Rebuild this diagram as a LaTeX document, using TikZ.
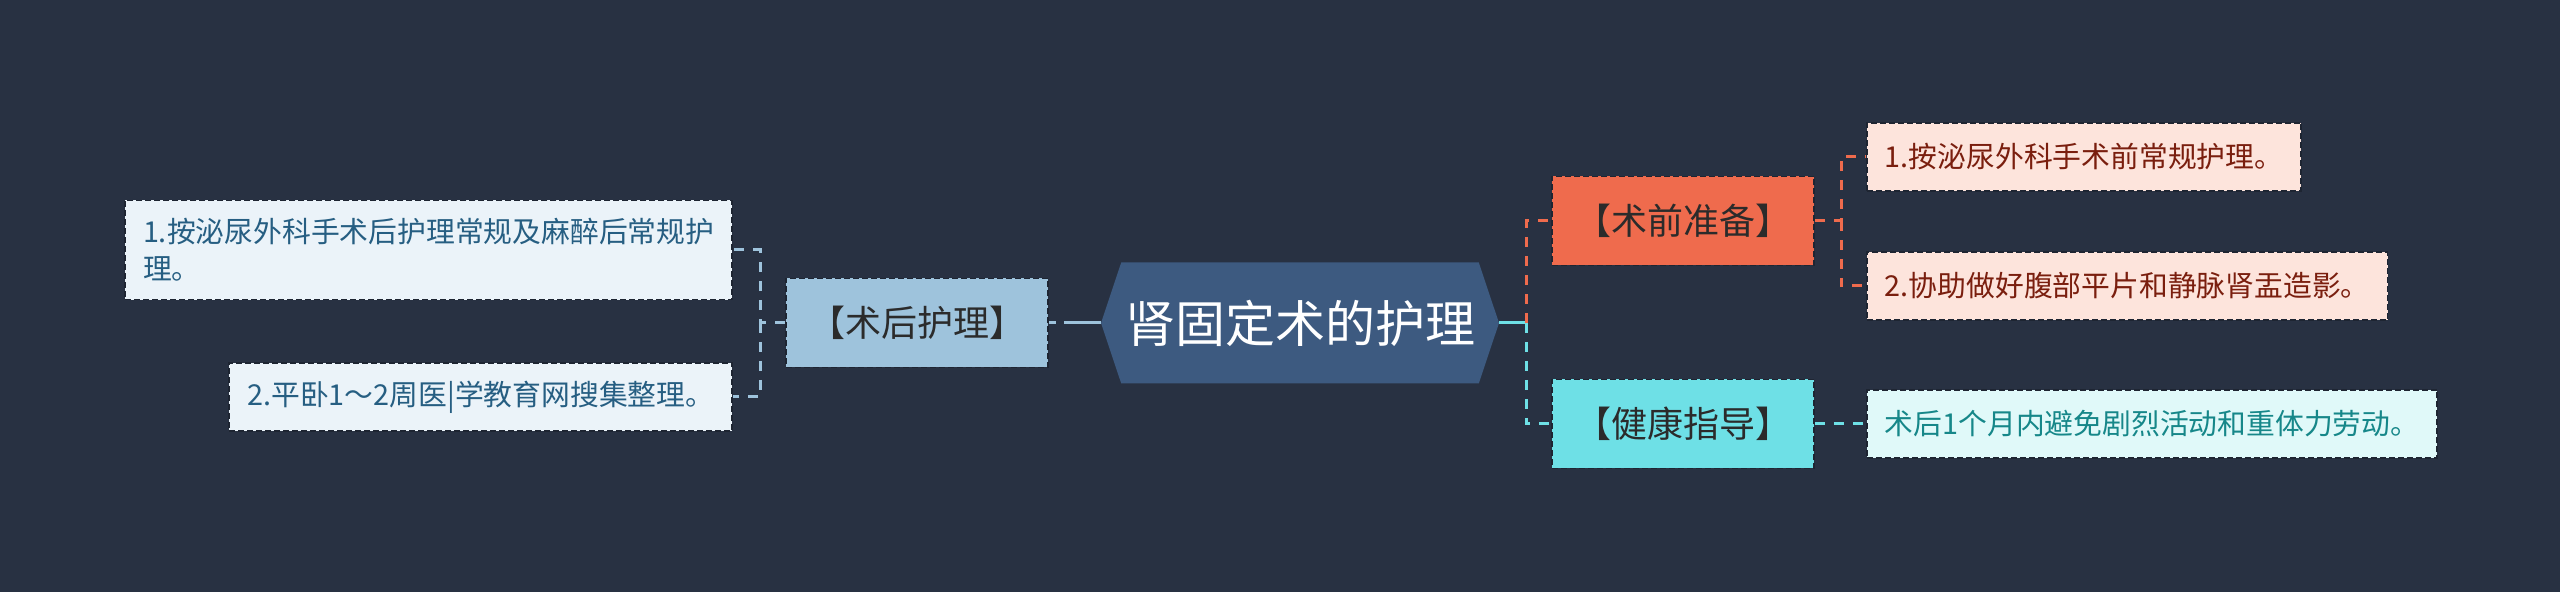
\documentclass[tikz,border=0pt]{standalone}
\usepackage{fontspec}
\setmainfont{Noto Sans CJK SC}
\usetikzlibrary{shapes.symbols}

\definecolor{bgcol}{RGB}{40,49,66}
\definecolor{rimcol}{RGB}{30,37,50}
\definecolor{rootcol}{RGB}{61,90,128}
\definecolor{bluecol}{RGB}{158,195,220}
\definecolor{bluelite}{RGB}{235,243,249}
\definecolor{bluetext}{RGB}{38,94,130}
\definecolor{redcol}{RGB}{239,107,77}
\definecolor{redlite}{RGB}{253,228,220}
\definecolor{redtext}{RGB}{122,30,14}
\definecolor{cyancol}{RGB}{110,224,230}
\definecolor{cyanlite}{RGB}{224,249,249}
\definecolor{cyantext}{RGB}{22,135,137}
\definecolor{midtext}{RGB}{43,43,43}

\tikzset{
	box/.style={draw=rimcol, line width=0.8pt, dash pattern=on 3pt off 1.5pt, inner sep=0pt},
	mid/.style={box, minimum width=131pt, minimum height=44.5pt, text=midtext,
		font=\fontsize{18}{22}\selectfont},
	leaf/.style={box, inner xsep=9pt, inner ysep=9pt, minimum height=34pt, align=left,
		font=\fontsize{14.4}{18.5}\selectfont},
	link/.style={line width=1.5pt, dash pattern=on 5pt off 4.5pt},
}

\begin{document}
\begin{tikzpicture}[x=0.5pt,y=-0.5pt]
			\fill[bgcol] (0,0) rectangle (2560,592);
			\useasboundingbox (0,0) rectangle (2560,592);
			\node[shape=signal, signal to=west and east, signal pointer angle=143,
				fill=rootcol, inner sep=0pt, minimum width=199pt, minimum height=60.5pt,
				text=white, font=\fontsize{25}{30}\selectfont] (root) at (1300,323) {肾固定术的护理};
			\node[mid, fill=bluecol] (houhu) at (917,323) {【术后护理】};
			\node[mid, fill=redcol] (shuqian) at (1683,221) {【术前准备】};
			\node[mid, fill=cyancol] (jiankang) at (1683,424) {【健康指导】};
			\node[leaf, fill=bluelite, text=bluetext, anchor=east] (hou-1) at (733,250)
				{1.按泌尿外科手术后护理常规及麻醉后常规护\\理。};
			\node[leaf, fill=bluelite, text=bluetext, anchor=east] (hou-2) at (733,397)
				{2.平卧1～2周医|学教育网搜集整理。};
			\node[leaf, fill=redlite, text=redtext, anchor=west] (qian-1) at (1866,157)
				{1.按泌尿外科手术前常规护理。};
			\node[leaf, fill=redlite, text=redtext, anchor=west] (qian-2) at (1866,286)
				{2.协助做好腹部平片和静脉肾盂造影。};
			\node[leaf, fill=cyanlite, text=cyantext, anchor=west] (jian-1) at (1866,424)
				{术后1个月内避免剧烈活动和重体力劳动。};
			\coordinate (root-r) at (1526,323);
			\coordinate (hou-j) at (760,323);
			\coordinate (qian-j) at (1841,221);
			\draw[line width=1.5pt, cyancol] (root.east) -- (root-r);
			\draw[link, redcol] (root-r) |- (shuqian.west);
			\draw[link, cyancol] (root-r) |- (jiankang.west);
			\draw[link, redcol] (shuqian.east) -- (qian-j) |- (qian-1.west);
			\draw[link, redcol] (qian-j) |- (qian-2.west);
			\draw[link, cyancol] (jiankang.east) -- (jian-1.west);
			\draw[line width=1.5pt, bluecol, dash pattern=on 3.5pt off 4pt on 40pt] (houhu.east) -- (root.west);
			\draw[link, bluecol] (houhu.west) -- (hou-j) |- (hou-1.east);
			\draw[link, bluecol] (hou-j) |- (hou-2.east);
		\end{tikzpicture}
\end{document}
